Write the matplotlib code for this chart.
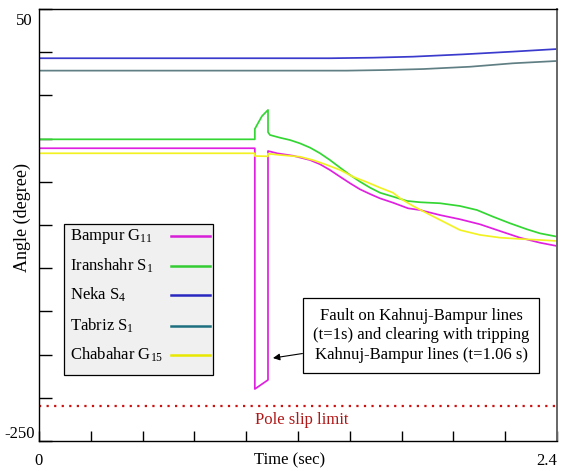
import matplotlib.pyplot as plt
import numpy as np
from matplotlib.patches import Rectangle

plt.rcParams['font.family'] = 'Liberation Serif'
plt.rcParams['mathtext.fontset'] = 'custom'
plt.rcParams['mathtext.rm'] = 'Liberation Serif'

# rotor angle curves (time in s, angle in degree)
bampur_t = [0, 1.0, 1.0, 1.061, 1.061, 1.103, 1.177, 1.256, 1.302, 1.348, 1.395,
            1.441, 1.487, 1.534, 1.580, 1.640, 1.710, 1.765, 1.858, 1.950, 2.043,
            2.136, 2.228, 2.321, 2.4]
bampur_v = [-46.7, -46.7, -213.9, -207.6, -48.6, -50.2, -51.9, -54.9, -57.8, -61.8,
            -66.5, -71.0, -75.2, -78.5, -81.5, -84.5, -88.4, -89.6, -93.1, -96.0,
            -99.5, -104.2, -108.8, -112.3, -114.6]

iran_t = [0, 1.0, 1.0, 1.015, 1.033, 1.061, 1.061, 1.070, 1.117, 1.163, 1.209, 1.256,
          1.302, 1.348, 1.395, 1.441, 1.487, 1.534, 1.580, 1.640, 1.705, 1.765,
          1.858, 1.950, 2.029, 2.103, 2.182, 2.261, 2.321, 2.4]
iran_v = [-40.5, -40.5, -33.3, -29.2, -24.4, -20.1, -35.5, -37.5, -39.4, -41.0, -43.3,
          -46.3, -50.2, -54.9, -60.2, -65.3, -69.9, -74.1, -77.6, -80.3, -83.3, -84.2,
          -84.9, -86.8, -89.6, -94.2, -98.8, -103.0, -105.8, -108.1]

neka_t = [0, 1.348, 1.55, 1.733, 1.964, 2.196, 2.4]
neka_v = [15.8, 15.8, 16.2, 16.9, 18.5, 20.4, 22.2]

tabriz_t = [0, 1.427, 1.6, 1.779, 1.997, 2.196, 2.4]
tabriz_v = [7.2, 7.2, 7.6, 8.3, 9.9, 12.3, 13.9]

chab_t = [0, 1.0, 1.0, 1.061, 1.061, 1.117, 1.209, 1.269, 1.334, 1.395, 1.455, 1.520,
          1.580, 1.640, 1.673, 1.733, 1.798, 1.858, 1.950, 2.043, 2.136, 2.228,
          2.321, 2.4]
chab_v = [-50.2, -50.2, -52.1, -52.3, -50.5, -51.4, -52.6, -54.9, -58.3, -61.8, -66.5,
          -70.3, -74.1, -77.6, -81.5, -86.8, -91.9, -96.5, -103.5, -106.9, -108.8,
          -109.7, -110.4, -111.1]

names = ['Bampur G$\\mathregular{_{11}}$', 'Iranshahr S$\\mathregular{_1}$',
         'Neka S$\\mathregular{_4}$', 'Tabriz S$\\mathregular{_1}$',
         'Chabahar G$\\mathregular{_{15}}$']
colors = ['#e020e0', '#33d633', '#3a3acc', '#607f84', '#f2f222']
legend_colors = ['#d81ed8', '#33cc33', '#2828c0', '#1d6f80', '#e8e800']

pole_slip = -226

fig = plt.figure(figsize=(5.61, 4.71), dpi=100)
ax = fig.add_axes([0.0695, 0.0637, 0.9234, 0.9172])

series = [(bampur_t, bampur_v), (iran_t, iran_v), (neka_t, neka_v),
          (tabriz_t, tabriz_v), (chab_t, chab_v)]
for (t, v), c in zip(series, colors):
    ax.plot(t, v, color=c, lw=1.25)

ax.axhline(pole_slip, color='#cc1111', lw=1.6, ls=(0, (1, 2.4)))
ax.text(1.0, pole_slip - 4, 'Pole slip limit', color='#b01818', fontsize=12,
        ha='left', va='top')

ax.annotate('Fault on Kahnuj-Bampur lines\n(t=1s) and clearing with tripping\n'
            'Kahnuj-Bampur lines (t=1.06 s)',
            xy=(1.084, -192.4), xytext=(1.77, -176.6), fontsize=12,
            ha='center', va='center', linespacing=1.3,
            bbox=dict(boxstyle='square,pad=0.6', fc='white', ec='black', lw=0.9),
            arrowprops=dict(arrowstyle='-|>', color='black', lw=0.8,
                            mutation_scale=10, shrinkA=0, shrinkB=0))

# legend: text on the left, line on the right
ax.add_patch(Rectangle((0.0483, 0.1528), 0.2876, 0.3495, transform=ax.transAxes,
                       fc='#f0f0f0', ec='black', lw=0.9, zorder=5))
rows_y = [0.4745, 0.4051, 0.3380, 0.2662, 0.1991]
for name, c, ry in zip(names, legend_colors, rows_y):
    ax.text(0.0598, ry, name, transform=ax.transAxes, fontsize=12,
            ha='left', va='center', zorder=6)
    ax.plot([0.2548, 0.3301], [ry, ry], transform=ax.transAxes, color=c,
            lw=1.8, zorder=6)

ax.set_xlim(0, 2.4)
ax.set_ylim(-250, 50)
ax.set_xticks(np.linspace(0, 2.4, 11))
ax.set_xticklabels(['0'] + [''] * 9 + ['2.4'])
ax.get_xticklabels()[-1].set_ha('right')
ax.set_yticks(np.arange(-250, 51, 30))
ax.set_yticklabels([])
ax.tick_params(axis='y', direction='in', length=9, width=1)
ax.tick_params(axis='x', direction='in', length=7, width=1, labelsize=12, pad=9)
for s in ax.spines.values():
    s.set_linewidth(1.0)
ax.spines['right'].set_color('#666666')
ax.spines['right'].set_linewidth(1.4)

ax.text(-0.0116, 0.973, '50', transform=ax.transAxes, fontsize=12,
        ha='right', va='center')
ax.text(-0.0077, 0.016, '-250', transform=ax.transAxes, fontsize=12,
        ha='right', va='center')
ax.text(0.483, -0.044, 'Time (sec)', transform=ax.transAxes, fontsize=12,
        ha='center', va='center')
ax.text(-0.033, 0.517, 'Angle (degree)', transform=ax.transAxes, fontsize=13,
        ha='center', va='center', rotation=90)

fig.savefig('out.png', dpi=100)
